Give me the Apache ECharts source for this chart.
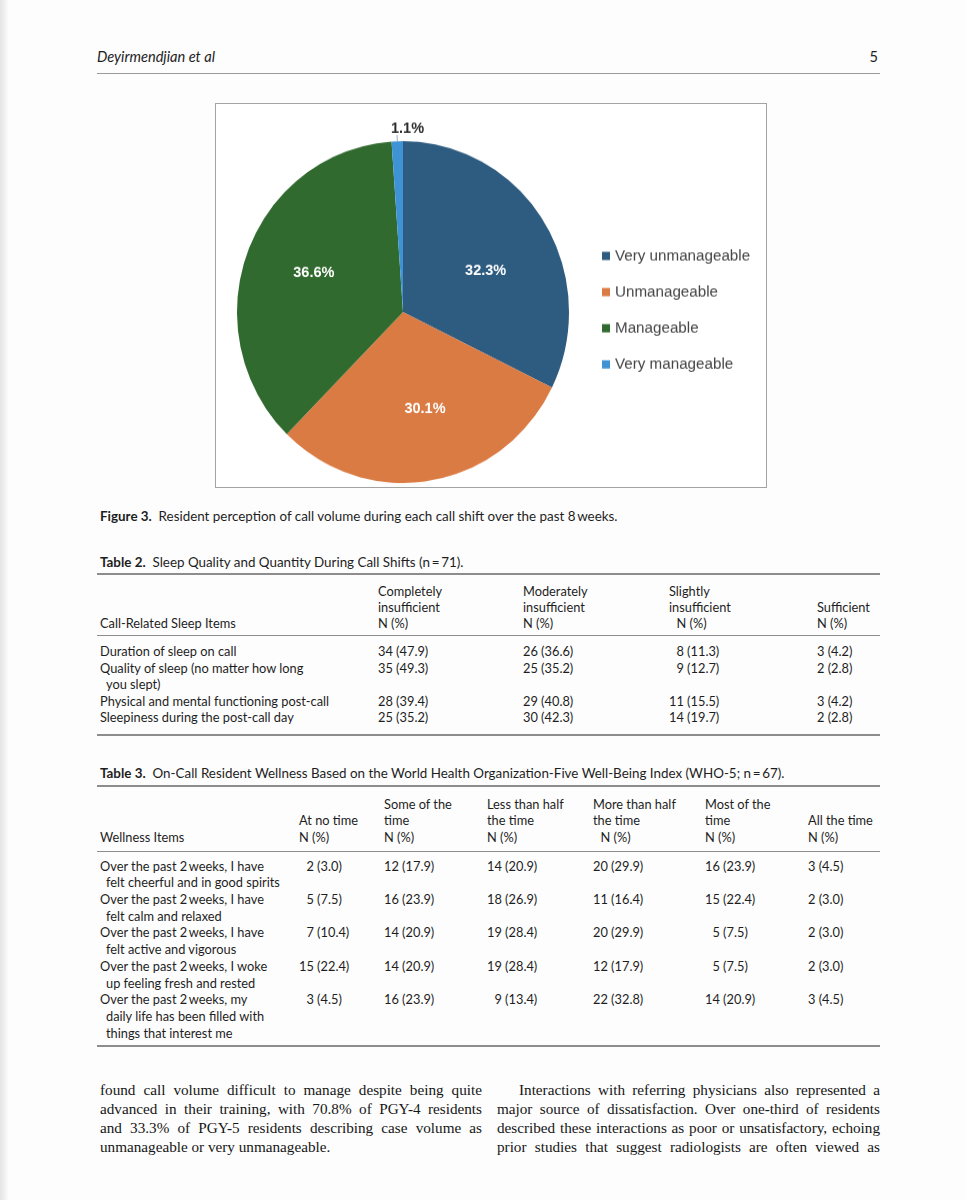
<!DOCTYPE html>
<html><head><meta charset="utf-8">
<script src="https://cdn.jsdelivr.net/npm/echarts@6/dist/echarts.min.js"></script>
<style>
html,body{margin:0;padding:0;background:#fdfdfd;}
body{width:966px;height:1200px;position:relative;overflow:hidden;font-family:Lato,"Noto Sans",sans-serif;color:#1e1e1e;}
.shadow{position:absolute;left:0;top:0;width:8px;height:1200px;background:linear-gradient(to right,#e4e4e4,#f1f1f1 60%,#fbfbfb);}
.abs{position:absolute;white-space:nowrap;}
.hdr{top:48px;line-height:18px;font-style:italic;font-size:14.6px;}
.rule{position:absolute;left:97px;width:783px;height:1px;background:#9a9a9a;}
#box{position:absolute;left:215px;top:103px;width:552px;height:385px;border:1px solid #a3a3a3;box-sizing:border-box;background:#fff;overflow:hidden;}
#chart{position:absolute;left:0;top:0;width:550px;height:372px;transform:scaleY(1.03);transform-origin:0 0;}
.cap{font-size:13.4px;line-height:16px;}
table{position:absolute;left:97px;width:783px;border-collapse:collapse;table-layout:fixed;font-size:12.8px;}
th,td{padding:0 0 0 3px;text-align:left;font-weight:normal;vertical-align:top;white-space:nowrap;}
thead th{vertical-align:bottom;}
td.lab{padding-left:9px;text-indent:-6px;}
#t2{top:573px;border-top:2px solid #8d8d8d;border-bottom:2px solid #8d8d8d;}
#t2 th,#t2 td{line-height:16.5px;}
#t2 thead th{line-height:16px;padding-top:8px;padding-bottom:4px;border-bottom:1.5px solid #8d8d8d;}
#t3{top:785px;border-top:2px solid #8d8d8d;border-bottom:2px solid #8d8d8d;}
#t3 th,#t3 td{line-height:16.7px;}
#t3 thead th{padding-top:8.5px;padding-bottom:5px;border-bottom:1.5px solid #8d8d8d;}
.body{position:absolute;top:1079.5px;font-family:"Liberation Serif","DejaVu Serif",serif;font-size:15.2px;line-height:19px;color:#151515;}
.body div{text-align:justify;text-align-last:justify;white-space:nowrap;}
.body div.last{text-align-last:left;}
</style>
</head><body>
<div class="shadow"></div>
<div class="abs hdr" style="left:97px">Deyirmendjian et al</div>
<div class="abs hdr" style="right:88px;font-style:normal">5</div>
<div class="rule" style="top:73px"></div>

<div id="box"><div id="chart"></div></div>

<div class="abs cap" style="left:100px;top:508px"><b>Figure 3.</b>&nbsp; Resident perception of call volume during each call shift over the past 8&#8201;weeks.</div>
<div class="abs cap" style="left:100px;top:554px"><b>Table 2.</b>&nbsp; Sleep Quality and Quantity During Call Shifts (n&#8201;=&#8201;71).</div>
<table id="t2"></table>
<div class="abs cap" style="left:100px;top:765px"><b>Table 3.</b>&nbsp; On-Call Resident Wellness Based on the World Health Organization-Five Well-Being Index (WHO-5; n&#8201;=&#8201;67).</div>
<table id="t3"></table>

<div class="body" style="left:100px;width:382px">
<div>found call volume difficult to manage despite being quite</div>
<div>advanced in their training, with 70.8% of PGY-4 residents</div>
<div>and 33.3% of PGY-5 residents describing case volume as</div>
<div class="last">unmanageable or very unmanageable.</div>
</div>
<div class="body" style="left:497px;width:383px">
<div style="padding-left:22px">Interactions with referring physicians also represented a</div>
<div>major source of dissatisfaction. Over one-third of residents</div>
<div>described these interactions as poor or unsatisfactory, echoing</div>
<div>prior studies that suggest radiologists are often viewed as</div>
</div>

<script>
// ---- Figure 3 data ----
const categories = ['Very unmanageable', 'Unmanageable', 'Manageable', 'Very manageable'];
const percents = [32.3, 30.1, 36.6, 1.1];
const colors = ['#2e5c81', '#db7b44', '#316a2e', '#3e93d5'];

// ---- Table 2 data ----
const t2Headers = [['Call-Related Sleep Items'], ['Completely', 'insufficient', 'N (%)'], ['Moderately', 'insufficient', 'N (%)'], ['Slightly', 'insufficient', '\u2007N (%)'], ['Sufficient', 'N (%)']];
const t2Items = [['Duration of sleep on call'], ['Quality of sleep (no matter how long', 'you slept)'], ['Physical and mental functioning post-call'], ['Sleepiness during the post-call day']];
const t2Values = [
  ['34 (47.9)', '26 (36.6)', '\u20078 (11.3)', '3 (4.2)'],
  ['35 (49.3)', '25 (35.2)', '\u20079 (12.7)', '2 (2.8)'],
  ['28 (39.4)', '29 (40.8)', '11 (15.5)', '3 (4.2)'],
  ['25 (35.2)', '30 (42.3)', '14 (19.7)', '2 (2.8)']
];
const t2Widths = [278, 145, 146, 148, 66];

// ---- Table 3 data ----
const t3Headers = [['Wellness Items'], ['At no time', 'N (%)'], ['Some of the', 'time', 'N (%)'], ['Less than half', 'the time', 'N (%)'], ['More than half', 'the time', '\u2007N (%)'], ['Most of the', 'time', 'N (%)'], ['All the time', 'N (%)']];
const t3Items = [
  ['Over the past 2\u2009weeks, I have', 'felt cheerful and in good spirits'],
  ['Over the past 2\u2009weeks, I have', 'felt calm and relaxed'],
  ['Over the past 2\u2009weeks, I have', 'felt active and vigorous'],
  ['Over the past 2\u2009weeks, I woke', 'up feeling fresh and rested'],
  ['Over the past 2\u2009weeks, my', 'daily life has been filled with', 'things that interest me']
];
const t3Values = [
  ['\u20072 (3.0)', '12 (17.9)', '14 (20.9)', '20 (29.9)', '16 (23.9)', '3 (4.5)'],
  ['\u20075 (7.5)', '16 (23.9)', '18 (26.9)', '11 (16.4)', '15 (22.4)', '2 (3.0)'],
  ['\u20077 (10.4)', '14 (20.9)', '19 (28.4)', '20 (29.9)', '\u20075 (7.5)', '2 (3.0)'],
  ['15 (22.4)', '14 (20.9)', '19 (28.4)', '12 (17.9)', '\u20075 (7.5)', '2 (3.0)'],
  ['\u20073 (4.5)', '16 (23.9)', '\u20079 (13.4)', '22 (32.8)', '14 (20.9)', '3 (4.5)']
];
const t3Widths = [199, 85, 103, 106, 112, 103, 75];

function buildTable(id, headers, items, values, widths, firstPad, lastPad) {
  const t = document.getElementById(id);
  let h = '<colgroup>' + widths.map(w => '<col style="width:' + w + 'px">').join('') + '</colgroup>';
  h += '<thead><tr>' + headers.map(c => '<th>' + c.join('<br>') + '</th>').join('') + '</tr></thead><tbody>';
  items.forEach((it, i) => {
    let st = '';
    if (i === 0) st += 'padding-top:' + firstPad + 'px;';
    if (i === items.length - 1) st += 'padding-bottom:' + lastPad + 'px;';
    h += '<tr><td class="lab" style="' + st + '">' + it.join('<br>') + '</td>' +
      values[i].map(v => '<td style="' + st + '">' + v + '</td>').join('') + '</tr>';
  });
  h += '</tbody>';
  t.innerHTML = h;
}
buildTable('t2', t2Headers, t2Items, t2Values, t2Widths, 7, 8);
buildTable('t3', t3Headers, t3Items, t3Values, t3Widths, 6, 4);

// ---- Pie chart ----
const chart = echarts.init(document.getElementById('chart'), null, {renderer: 'canvas'});
const pieData = categories.map((name, i) => ({name: name, value: percents[i], itemStyle: {color: colors[i]}}));
const labelFont = {fontFamily: '"Liberation Sans", Arial, sans-serif', fontWeight: 'bold', fontSize: 14.5};
// small nudges so the inner labels sit where the original (Excel) placed them
const innerLabelNudge = [[2, 10], [6, 0], [0, -5], [0, 0]];
chart.setOption({
  animation: false,
  legend: {
    orient: 'vertical', left: 381, top: 135,
    icon: 'rect', itemWidth: 8, itemHeight: 8, itemGap: 20.1,
    data: categories,
    textStyle: {fontFamily: '"Liberation Sans", Arial, sans-serif', fontSize: 15.2, color: '#454545'}
  },
  series: [
    {
      type: 'pie', center: [187, 202], radius: 166, startAngle: 90, clockwise: true,
      silent: true,
      data: pieData.map((d, i) => Object.assign({}, d, {
        label: i === 3
          ? Object.assign({show: true, position: 'outside', color: '#2a2a2a', formatter: '{c}%', offset: [32, -6]}, labelFont)
          : {show: false},
        labelLine: i === 3 ? {show: true, length: 6, length2: 0, lineStyle: {color: '#9ab', width: 1}} : {show: false}
      }))
    },
    {
      type: 'pie', center: [187, 202], radius: [0, 184], startAngle: 90, clockwise: true,
      silent: true,
      itemStyle: {color: 'rgba(0,0,0,0)'},
      data: pieData.map((d, i) => ({
        name: d.name, value: d.value, itemStyle: {color: 'rgba(0,0,0,0)'},
        label: i === 3 ? {show: false} : Object.assign({show: true, position: 'inner', color: '#fff', formatter: '{c}%', offset: innerLabelNudge[i]}, labelFont),
        labelLine: {show: false}
      }))
    }
  ]
});
</script>
</body></html>
